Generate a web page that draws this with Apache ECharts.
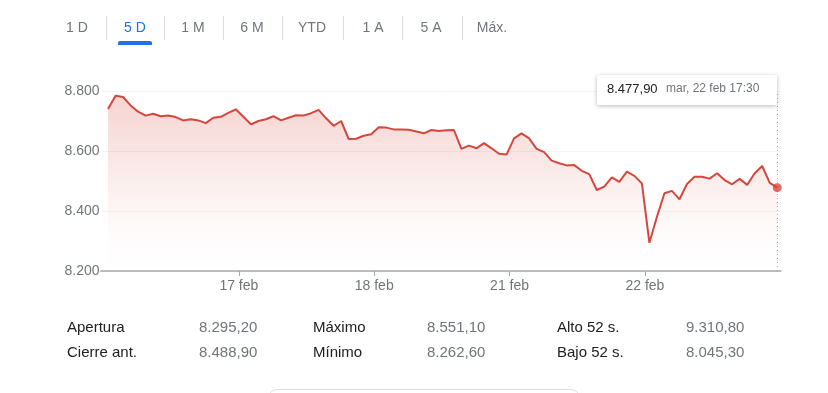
<!DOCTYPE html>
<html>
<head>
<meta charset="utf-8">
<script src="https://cdn.jsdelivr.net/npm/echarts@6/dist/echarts.min.js"></script>
<style>
html,body{margin:0;padding:0;background:#fff;}
#c{width:828px;height:393px;}
</style>
</head>
<body>
<div id="c"></div>
<script>
// ---- data ----
const tabLabels = ['1 D', '5 D', '1 M', '6 M', 'YTD', '1 A', '5 A', 'Máx.'];
const activeTab = 1;
const dayLabels = ['17 feb', '18 feb', '21 feb', '22 feb'];
const pointsPerDay = 18;
const yTicks = [8200, 8400, 8600, 8800];
const prices = [
  8740, 8784, 8780, 8752, 8731, 8718, 8724, 8716, 8718, 8713, 8702, 8706, 8702, 8693, 8711, 8714, 8727, 8739,
  8714, 8689, 8700, 8706, 8716, 8702, 8711, 8719, 8718, 8726, 8737, 8709, 8684, 8700, 8640, 8641, 8651, 8656,
  8679, 8678, 8672, 8672, 8671, 8665, 8659, 8670, 8667, 8669, 8670, 8607, 8618, 8609, 8626, 8609, 8591, 8588,
  8642, 8659, 8642, 8607, 8596, 8568, 8559, 8552, 8553, 8534, 8523, 8470, 8481, 8512, 8497, 8531, 8517, 8492,
  8294, 8381, 8459, 8467, 8439, 8490, 8514, 8514, 8508, 8526, 8503, 8489, 8507, 8487, 8526, 8550, 8494, 8477.9
];
const lastLabel = 'mar, 22 feb 17:30';
const statLabels = [['Apertura', 'Máximo', 'Alto 52 s.'], ['Cierre ant.', 'Mínimo', 'Bajo 52 s.']];
const statValues = [['8.295,20', '8.551,10', '9.310,80'], ['8.488,90', '8.262,60', '8.045,30']];

// ---- helpers ----
function fmt(v, dec) {
  const s = v.toFixed(dec);
  const parts = s.split('.');
  const int = parts[0].replace(/\B(?=(\d{3})+(?!\d))/g, '.');
  return parts.length > 1 ? int + ',' + parts[1] : int;
}
const FONT = '"Liberation Sans", Arial, sans-serif';
const RED = '#d5473c';
const GRAY = '#70757a';

const seriesData = prices.map((v, i) => [i, v]);
const lastIdx = prices.length - 1;
const dayTickPos = dayLabels.map((d, k) => pointsPerDay * (k + 1) - 0.6);

// ---- graphics ----
const graphics = [];
const tabX = [77, 135, 193, 252, 312, 373, 431, 492];
tabLabels.forEach((t, i) => {
  graphics.push({
    type: 'text', x: tabX[i], y: 28,
    style: { text: t, font: '14px ' + FONT, fill: i === activeTab ? '#1a73e8' : GRAY, align: 'center', verticalAlign: 'middle' }
  });
  if (i < tabLabels.length - 1) {
    const sx = Math.round((tabX[i] + tabX[i + 1]) / 2) + 0.5;
    graphics.push({ type: 'line', shape: { x1: sx, y1: 16, x2: sx, y2: 40 }, style: { stroke: '#dadce0', lineWidth: 1 } });
  }
});
graphics.push({ type: 'rect', shape: { x: tabX[activeTab] - 17, y: 41, width: 34, height: 4, r: [2, 2, 0, 0] }, style: { fill: '#1a73e8' } });

// tooltip box
graphics.push({
  type: 'rect', z: 100,
  shape: { x: 597, y: 75, width: 180, height: 30, r: 2 },
  style: { fill: '#fff', shadowBlur: 4, shadowColor: 'rgba(0,0,0,0.28)', shadowOffsetY: 1 }
});
graphics.push({ type: 'text', z: 101, x: 607, y: 89, style: { text: fmt(prices[lastIdx], 2), font: '13px ' + FONT, fill: '#202124', verticalAlign: 'middle' } });
graphics.push({ type: 'text', z: 101, x: 666, y: 89, style: { text: lastLabel, font: '12px ' + FONT, fill: GRAY, verticalAlign: 'middle' } });

// stats table
const labX = [67, 313, 557], valX = [199, 427, 686], rowY = [328, 353];
statLabels.forEach((row, r) => row.forEach((lab, c) => {
  graphics.push({ type: 'text', x: labX[c], y: rowY[r], style: { text: lab, font: '15px ' + FONT, fill: '#202124', verticalAlign: 'middle' } });
  graphics.push({ type: 'text', x: valX[c], y: rowY[r], style: { text: statValues[r][c], font: '15px ' + FONT, fill: GRAY, verticalAlign: 'middle' } });
}));
// partial rounded box at the bottom
graphics.push({ type: 'rect', shape: { x: 267.5, y: 389.5, width: 313, height: 30, r: 10 }, style: { fill: '#fff', stroke: '#dadce0', lineWidth: 1 } });

const chart = echarts.init(document.getElementById('c'), null, { renderer: 'canvas' });
chart.setOption({
  animation: false,
  grid: { left: 100.5, right: 47, top: 91, bottom: 122 },
  xAxis: {
    type: 'value', min: -1, max: 89.5,
    axisLine: { show: true, lineStyle: { color: '#a8a8a8', width: 1.5 } },
    axisTick: { show: true, customValues: dayTickPos, length: 5, lineStyle: { color: '#a8a8a8', width: 1 } },
    axisLabel: {
      customValues: dayTickPos, color: GRAY, fontSize: 14, fontFamily: FONT, margin: 8,
      formatter: (v) => { const k = dayTickPos.findIndex(p => Math.abs(p - v) < 0.01); return k >= 0 ? dayLabels[k] : ''; }
    },
    splitLine: { show: false }
  },
  yAxis: {
    type: 'value', min: yTicks[0], max: yTicks[yTicks.length - 1], interval: 200,
    axisLine: { show: false }, axisTick: { show: false },
    axisLabel: { color: GRAY, fontSize: 14, fontFamily: FONT, margin: 1, formatter: v => fmt(v, 0) },
    splitLine: { show: true, lineStyle: { color: '#f4f4f4', width: 1 } }
  },
  series: [
    {
      type: 'line', data: seriesData, showSymbol: false, symbol: 'none',
      lineStyle: { color: RED, width: 2 },
      areaStyle: {
        color: { type: 'linear', global: true, x: 0, y: 91, x2: 0, y2: 268,
          colorStops: [{ offset: 0, color: 'rgba(217,69,58,0.34)' }, { offset: 0.75, color: 'rgba(217,69,58,0.04)' }, { offset: 1, color: 'rgba(217,69,58,0)' }] }
      },
      markLine: {
        silent: true, symbol: ['none', 'none'], label: { show: false }, z: 1,
        lineStyle: { color: '#b0b0b0', type: [1, 3], width: 1 },
        data: [{ xAxis: lastIdx }]
      },
      z: 3
    },
    {
      type: 'scatter', data: [seriesData[lastIdx]], symbol: 'circle', symbolSize: 9,
      itemStyle: { color: RED }, z: 10
    }
  ],
  graphic: graphics
});
</script>
</body>
</html>
